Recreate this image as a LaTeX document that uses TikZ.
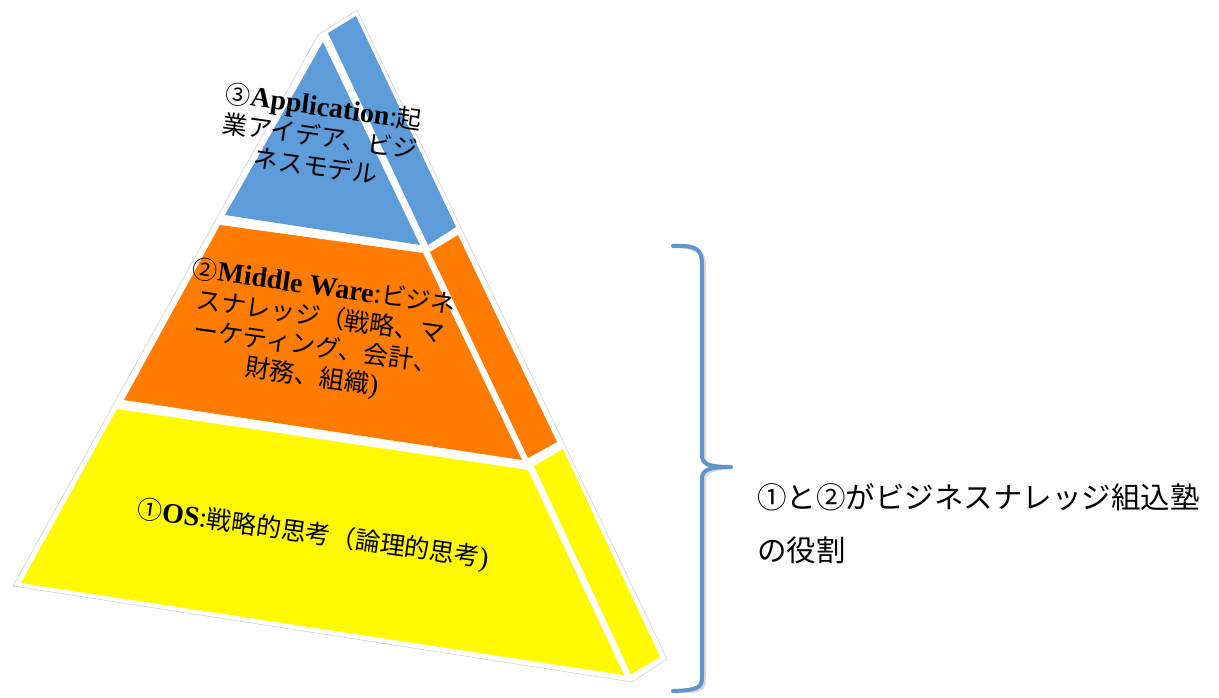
\documentclass[tikz,border=0pt]{standalone}
\usepackage{fontspec}
\setmainfont{Noto Sans CJK JP}
\newfontfamily\lat[Scale=1.12]{Liberation Serif}
\definecolor{pblue}{RGB}{93,156,216}
\definecolor{porange}{RGB}{255,124,0}
\definecolor{pyellow}{RGB}{255,250,0}
\definecolor{bracec}{RGB}{98,148,204}
\begin{document}
\begin{tikzpicture}[x=1pt,y=-1pt,
  lbl/.style={align=center,font=\fontsize{25}{30}\selectfont,inner sep=0pt,text=black},
  bracepath/.style={line width=4pt,line cap=round,line join=round}]
\useasboundingbox (0,0) rectangle (1219,697);
\fill[white] (0,0) rectangle (1219,697);
% outer outline
\draw[gray!35,fill=white,line width=0.6pt] (318,35) -- (357,10) -- (667,659) -- (632,682) -- (13,586) -- cycle;
% faces
\fill[pblue] (323,42) -- (420,245) -- (225,215) -- cycle;
\fill[pblue] (328,33) -- (356,16) -- (456,227) -- (428,245) -- cycle;
\fill[porange] (220,225) -- (423,253) -- (522,460) -- (124,400) -- cycle;
\fill[porange] (430,252) -- (458,235) -- (557,442) -- (528,458) -- cycle;
\fill[pyellow] (117,409) -- (528,470) -- (624,675) -- (21,583) -- cycle;
\fill[pyellow] (534,466) -- (563,449) -- (660,657) -- (631,674) -- cycle;
% labels
\node[lbl,rotate=-8] (app) at (320,136) {③{\lat\bfseries Application}{\lat :}起\\業アイデア、ビジ\\ネスモデル};
\node[lbl,rotate=-8] (mid) at (318,333) {②{\lat\bfseries Middle Ware}{\lat :}ビジネ\\スナレッジ（戦略、マ\\ーケティング、会計、\\財務、組織{\lat )}};
\node[lbl,rotate=-8] (os) at (313,535) {①{\lat\bfseries OS}{\lat :}戦略的思考（論理的思考{\lat )}};
% brace
\coordinate (btop) at (673,246);
\coordinate (btip) at (731,467);
\coordinate (bbot) at (673,691);
\foreach \c/\s in {gray!30/2, bracec/0}{
\draw[\c,bracepath,xshift=\s pt,yshift=-\s pt] (btop) .. controls (698,245) and (702,250) .. (702,265) -- (702,455) .. controls (702,463) and (706,467) .. (btip)
  (btip) .. controls (706,467) and (702,471) .. (702,479) -- (702,677) .. controls (702,688) and (698,690) .. (bbot);
}
\node[anchor=west,align=left,inner sep=0pt,font=\fontsize{29.5}{53}\selectfont] (role) at (757,524) {①と②がビジネスナレッジ組込塾\\の役割};
\end{tikzpicture}
\end{document}
